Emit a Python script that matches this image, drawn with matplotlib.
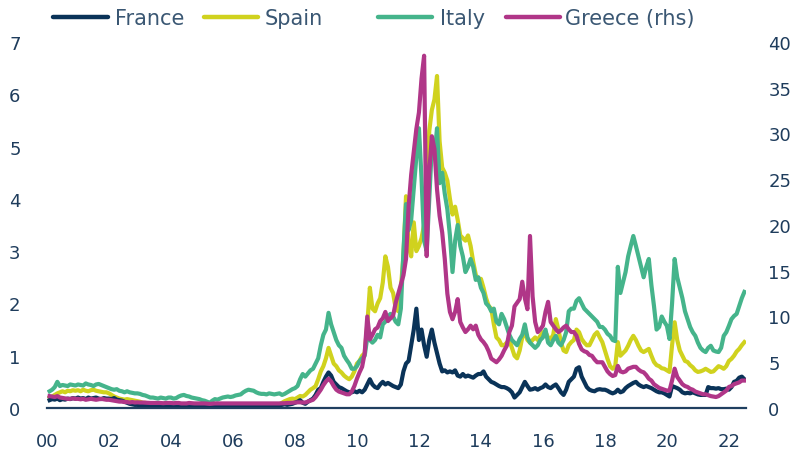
import numpy as np
import matplotlib
matplotlib.use("Agg")
import matplotlib.pyplot as plt
from matplotlib.lines import Line2D

# ---------------- data (monthly, Feb 2000 .. Jul 2022) ----------------
start_year = 2000 + 1 / 12
n_months = 270

france = [
    0.15, 0.17, 0.16, 0.18, 0.15, 0.17, 0.16, 0.18, 0.17, 0.19, 0.18,
    0.20, 0.18, 0.19, 0.17, 0.20, 0.18, 0.19, 0.20, 0.18, 0.17, 0.19, 0.18,
    0.18, 0.17, 0.19, 0.16, 0.15, 0.14, 0.12, 0.10, 0.08, 0.07, 0.06, 0.06,
    0.05, 0.05, 0.06, 0.04, 0.05, 0.04, 0.05, 0.04, 0.05, 0.04, 0.04, 0.05,
    0.04, 0.05, 0.04, 0.03, 0.04, 0.03, 0.04, 0.03, 0.04, 0.03, 0.03, 0.04,
    0.03, 0.04, 0.03, 0.04, 0.03, 0.02, 0.03, 0.03, 0.04, 0.03, 0.03, 0.03,
    0.03, 0.03, 0.04, 0.03, 0.03, 0.04, 0.03, 0.03, 0.03, 0.04, 0.03, 0.03,
    0.03, 0.04, 0.03, 0.04, 0.04, 0.05, 0.05, 0.06, 0.07, 0.06, 0.07, 0.08,
    0.10, 0.12, 0.15, 0.10, 0.08, 0.12, 0.15, 0.18, 0.25, 0.35, 0.38, 0.50,
    0.60, 0.68, 0.62, 0.50, 0.45, 0.40, 0.38, 0.35, 0.32, 0.30, 0.30, 0.32,
    0.30, 0.33, 0.30, 0.35, 0.45, 0.55, 0.45, 0.40, 0.38, 0.45, 0.50, 0.45,
    0.48, 0.45, 0.42, 0.40, 0.38, 0.45, 0.70, 0.85, 0.90, 1.20, 1.50, 1.90,
    1.30, 1.50, 1.20, 0.98, 1.30, 1.50, 1.25, 1.05, 0.85, 0.70, 0.72, 0.68,
    0.70, 0.68, 0.72, 0.62, 0.60, 0.65, 0.60, 0.62, 0.60, 0.58, 0.62, 0.65,
    0.65, 0.70, 0.60, 0.55, 0.50, 0.48, 0.45, 0.42, 0.40, 0.40, 0.38, 0.35,
    0.30, 0.20, 0.25, 0.30, 0.40, 0.50, 0.42, 0.35, 0.36, 0.38, 0.35, 0.38,
    0.40, 0.45, 0.40, 0.38, 0.42, 0.45, 0.38, 0.30, 0.25, 0.35, 0.50, 0.55,
    0.60, 0.75, 0.78, 0.60, 0.50, 0.40, 0.35, 0.33, 0.32, 0.35, 0.36, 0.35,
    0.35, 0.33, 0.30, 0.28, 0.30, 0.35, 0.30, 0.32, 0.38, 0.42, 0.45, 0.48,
    0.50, 0.45, 0.42, 0.40, 0.42, 0.40, 0.38, 0.35, 0.32, 0.30, 0.30, 0.28,
    0.25, 0.22, 0.42, 0.40, 0.38, 0.35, 0.30, 0.28, 0.29, 0.28, 0.30, 0.28,
    0.26, 0.25, 0.25, 0.25, 0.40, 0.38, 0.38, 0.37, 0.38, 0.36, 0.36, 0.37,
    0.35, 0.40, 0.50, 0.52, 0.58, 0.60, 0.55,
]

spain = [
    0.20, 0.22, 0.25, 0.28, 0.30, 0.32, 0.30, 0.33, 0.32, 0.34, 0.33,
    0.34, 0.32, 0.35, 0.33, 0.32, 0.34, 0.35, 0.33, 0.32, 0.31, 0.30, 0.30,
    0.28, 0.25, 0.22, 0.20, 0.18, 0.17, 0.16, 0.17, 0.16, 0.15, 0.14, 0.13,
    0.12, 0.10, 0.10, 0.09, 0.08, 0.08, 0.07, 0.07, 0.08, 0.07, 0.06, 0.06,
    0.06, 0.05, 0.06, 0.05, 0.06, 0.05, 0.04, 0.05, 0.04, 0.04, 0.05, 0.04,
    0.04, 0.03, 0.04, 0.03, 0.03, 0.02, 0.03, 0.03, 0.04, 0.03, 0.03, 0.04,
    0.03, 0.03, 0.04, 0.04, 0.04, 0.03, 0.04, 0.04, 0.05, 0.04, 0.04, 0.04,
    0.05, 0.05, 0.04, 0.05, 0.05, 0.06, 0.07, 0.10, 0.13, 0.15, 0.17, 0.18,
    0.17, 0.20, 0.23, 0.22, 0.25, 0.30, 0.35, 0.38, 0.42, 0.55, 0.70, 0.80,
    0.95, 1.15, 1.00, 0.85, 0.80, 0.72, 0.68, 0.62, 0.58, 0.55, 0.60, 0.70,
    0.85, 0.90, 1.00, 1.05, 1.60, 2.30, 1.90, 1.85, 2.00, 2.10, 2.40, 2.90,
    2.70, 2.30, 2.20, 1.90, 1.85, 2.30, 2.90, 4.05, 3.10, 2.90, 3.55, 3.00,
    3.10, 3.25, 3.50, 3.90, 5.30, 5.70, 5.90, 6.35, 5.10, 4.60, 4.50, 4.35,
    4.00, 3.70, 3.85, 3.60, 3.30, 3.25, 3.20, 3.30, 3.10, 2.80, 2.55, 2.45,
    2.47, 2.30, 2.10, 1.95, 1.90, 1.60, 1.35, 1.30, 1.20, 1.20, 1.25, 1.30,
    1.15, 1.00, 0.95, 1.10, 1.35, 1.45, 1.30, 1.25, 1.30, 1.35, 1.30, 1.38,
    1.45, 1.45, 1.35, 1.32, 1.40, 1.70, 1.50, 1.25, 1.10, 1.07, 1.20, 1.26,
    1.30, 1.50, 1.45, 1.32, 1.25, 1.20, 1.20, 1.30, 1.40, 1.45, 1.35, 1.26,
    1.10, 0.94, 0.80, 0.75, 0.80, 1.26, 1.00, 1.05, 1.10, 1.19, 1.30, 1.38,
    1.30, 1.19, 1.10, 1.07, 1.10, 1.13, 1.00, 0.88, 0.82, 0.80, 0.76, 0.75,
    0.72, 0.69, 1.20, 1.64, 1.30, 1.10, 1.00, 0.90, 0.88, 0.82, 0.78, 0.72,
    0.69, 0.70, 0.72, 0.75, 0.72, 0.69, 0.70, 0.75, 0.80, 0.78, 0.75, 0.80,
    0.90, 0.94, 1.00, 1.08, 1.13, 1.20, 1.26,
]

italy = [
    0.32, 0.35, 0.40, 0.50, 0.42, 0.44, 0.43, 0.42, 0.45, 0.44, 0.43,
    0.45, 0.44, 0.43, 0.47, 0.45, 0.44, 0.42, 0.45, 0.46, 0.44, 0.42, 0.40,
    0.38, 0.36, 0.35, 0.36, 0.33, 0.32, 0.30, 0.32, 0.30, 0.29, 0.28, 0.28,
    0.27, 0.25, 0.24, 0.22, 0.20, 0.20, 0.19, 0.18, 0.20, 0.19, 0.18, 0.20,
    0.20, 0.18, 0.19, 0.22, 0.24, 0.25, 0.23, 0.22, 0.20, 0.19, 0.18, 0.17,
    0.15, 0.14, 0.12, 0.10, 0.14, 0.17, 0.16, 0.18, 0.20, 0.21, 0.22, 0.21,
    0.22, 0.24, 0.25, 0.26, 0.30, 0.33, 0.35, 0.34, 0.33, 0.30, 0.28, 0.27,
    0.27, 0.26, 0.28, 0.27, 0.26, 0.27, 0.28, 0.25, 0.27, 0.30, 0.33, 0.36,
    0.38, 0.42, 0.55, 0.65, 0.60, 0.66, 0.72, 0.75, 0.85, 0.95, 1.20, 1.40,
    1.50, 1.82, 1.60, 1.45, 1.30, 1.20, 1.15, 1.00, 0.92, 0.85, 0.75, 0.75,
    0.80, 0.90, 0.95, 1.00, 1.35, 1.30, 1.25, 1.30, 1.40, 1.35, 1.60, 1.65,
    1.75, 1.80, 1.75, 1.65, 1.60, 1.90, 3.00, 3.90, 3.40, 3.60, 4.20, 4.80,
    5.35, 4.40, 3.20, 3.00, 4.00, 5.00, 4.80, 5.35, 4.30, 4.50, 4.10, 3.80,
    3.30, 2.60, 3.20, 3.50, 3.10, 2.90, 2.60, 2.70, 2.85, 2.70, 2.45, 2.50,
    2.30, 2.20, 2.00, 1.95, 1.85, 1.90, 1.65, 1.60, 1.80, 1.70, 1.55, 1.40,
    1.30, 1.25, 1.20, 1.32, 1.40, 1.60, 1.35, 1.25, 1.20, 1.15, 1.20, 1.30,
    1.35, 1.50, 1.25, 1.20, 1.30, 1.38, 1.25, 1.20, 1.30, 1.45, 1.85, 1.90,
    1.90, 2.05, 2.10, 2.00, 1.90, 1.85, 1.80, 1.75, 1.70, 1.65, 1.55, 1.55,
    1.50, 1.42, 1.38, 1.30, 1.28, 2.70, 2.20, 2.40, 2.60, 2.90, 3.10, 3.29,
    3.10, 2.90, 2.70, 2.50, 2.70, 2.85, 2.35, 1.95, 1.50, 1.55, 1.75, 1.65,
    1.57, 1.32, 2.00, 2.85, 2.50, 2.30, 2.10, 1.85, 1.70, 1.55, 1.45, 1.38,
    1.25, 1.15, 1.10, 1.07, 1.15, 1.19, 1.10, 1.08, 1.07, 1.15, 1.38, 1.45,
    1.57, 1.70, 1.76, 1.80, 1.95, 2.10, 2.22,
]

greece = [
    1.30, 1.25, 1.20, 1.30, 1.15, 1.10, 1.05, 1.00, 1.00, 1.05, 1.00,
    1.00, 0.95, 1.00, 0.90, 0.95, 1.00, 0.95, 0.90, 0.95, 1.00, 0.95, 0.90,
    0.90, 0.85, 0.80, 0.75, 0.70, 0.70, 0.65, 0.65, 0.60, 0.65, 0.60, 0.62,
    0.60, 0.60, 0.58, 0.55, 0.55, 0.55, 0.55, 0.55, 0.55, 0.52, 0.55, 0.55,
    0.55, 0.52, 0.55, 0.55, 0.50, 0.50, 0.50, 0.55, 0.52, 0.50, 0.50, 0.50,
    0.50, 0.50, 0.48, 0.45, 0.48, 0.50, 0.50, 0.50, 0.50, 0.50, 0.50, 0.50,
    0.50, 0.50, 0.50, 0.50, 0.50, 0.50, 0.50, 0.50, 0.50, 0.50, 0.50, 0.50,
    0.50, 0.50, 0.50, 0.50, 0.50, 0.50, 0.50, 0.52, 0.52, 0.55, 0.55, 0.58,
    0.60, 0.62, 0.62, 0.60, 0.60, 0.70, 0.80, 0.90, 1.20, 1.60, 2.00, 2.50,
    2.90, 3.20, 2.90, 2.40, 2.00, 1.80, 1.70, 1.60, 1.50, 1.50, 1.80, 2.40,
    3.20, 3.90, 4.50, 6.00, 10.0, 7.50, 8.00, 8.60, 8.80, 9.50, 9.80, 10.5,
    9.50, 9.80, 10.1, 11.5, 12.5, 13.5, 14.5, 16.3, 22.0, 25.5, 28.0, 30.5,
    32.3, 36.0, 38.5, 16.6, 25.8, 29.7, 28.3, 23.9, 21.0, 19.2, 16.3, 12.5,
    10.5, 9.70, 10.5, 11.9, 9.40, 8.80, 8.30, 8.60, 9.00, 8.60, 9.00, 8.00,
    7.50, 7.20, 6.80, 6.20, 5.40, 5.20, 5.00, 5.30, 5.70, 6.30, 6.80, 8.30,
    9.00, 11.1, 11.5, 11.9, 13.8, 12.0, 10.8, 18.8, 12.2, 9.40, 8.30, 8.60,
    9.00, 10.5, 11.6, 9.40, 9.00, 8.60, 8.30, 8.50, 8.80, 9.00, 8.60, 8.30,
    8.30, 7.90, 7.00, 6.40, 6.20, 6.10, 5.80, 5.70, 5.30, 5.00, 5.00, 5.00,
    4.50, 4.00, 3.70, 3.50, 3.60, 4.60, 4.00, 3.90, 4.00, 4.30, 4.40, 4.50,
    4.50, 4.20, 4.00, 3.90, 3.60, 3.20, 3.00, 2.60, 2.40, 2.20, 2.10, 2.00,
    1.90, 1.90, 3.00, 4.30, 3.40, 3.00, 2.60, 2.40, 2.30, 2.10, 2.00, 1.80,
    1.70, 1.60, 1.50, 1.50, 1.40, 1.30, 1.25, 1.20, 1.30, 1.50, 1.70, 1.90,
    2.30, 2.40, 2.60, 2.70, 2.80, 3.00, 3.00,
]

series_names = ["France", "Spain", "Italy", "Greece (rhs)"]
x_tick_years = list(range(2000, 2023, 2))
x_tick_labels = ["00", "02", "04", "06", "08", "10", "12", "14", "16", "18", "20", "22"]
left_ticks = [0, 1, 2, 3, 4, 5, 6, 7]
right_ticks = [0, 5, 10, 15, 20, 25, 30, 35, 40]

# ---------------- style ----------------
W, H = 793, 456
C_FR = "#0a3358"
C_ES = "#d0d21e"
C_IT = "#45b48b"
C_GR = "#b03688"
TXT = "#1e3c5c"
LEG_TXT = "#3a5773"
LW = 3.0

plt.rcParams["font.family"] = ["DejaVu Sans"]

t = start_year + np.arange(n_months) / 12.0

fig = plt.figure(figsize=(W / 100, H / 100), dpi=100)
ax_l, ax_r_px, ax_t, ax_b = 47, 746, 43, 409
ax = fig.add_axes([ax_l / W, 1 - ax_b / H, (ax_r_px - ax_l) / W, (ax_b - ax_t) / H])
ax2 = ax.twinx()

ax.plot(t, france, color=C_FR, lw=LW, solid_joinstyle="round", zorder=3)
ax.plot(t, spain, color=C_ES, lw=LW, solid_joinstyle="round", zorder=2)
ax.plot(t, italy, color=C_IT, lw=LW, solid_joinstyle="round", zorder=2.5)
ax2.plot(t, greece, color=C_GR, lw=LW, solid_joinstyle="round")

x0 = 2000 + (ax_l - 43.5) / 31.15
x1 = 2000 + (ax_r_px - 43.5) / 31.15
ax.set_xlim(x0, x1)
ax.set_ylim(0, 7)
ax2.set_ylim(0, 40)

ax.set_xticks(x_tick_years)
ax.set_xticklabels(x_tick_labels)
ax.set_yticks(left_ticks)
ax2.set_yticks(right_ticks)

for a in (ax, ax2):
    for s in a.spines.values():
        s.set_visible(False)
ax.spines["bottom"].set_visible(True)
ax.spines["bottom"].set_color("#1f3f60")
ax.spines["bottom"].set_linewidth(1.6)
ax.spines["bottom"].set_zorder(5)

ax.tick_params(axis="x", length=0, pad=17, labelsize=13, labelcolor=TXT)
ax.tick_params(axis="y", length=0, pad=19, labelsize=13, labelcolor=TXT)
ax2.tick_params(axis="y", length=0, pad=16, labelsize=13, labelcolor=TXT)

# ---------------- legend (manual, across top) ----------------
leg_y = 1 - 18 / H
handles_px = [(53, 108, 115), (204, 258, 265), (378, 432, 440), (506, 560, 565)]
colors = [C_FR, C_ES, C_IT, C_GR]
for (hx0, hx1, tx), c, name in zip(handles_px, colors, series_names):
    fig.add_artist(Line2D([hx0 / W, hx1 / W], [leg_y, leg_y], transform=fig.transFigure,
                          color=c, lw=3.2, solid_capstyle="round"))
    fig.text(tx / W, leg_y - 0.002, name, fontsize=15, color=LEG_TXT, ha="left", va="center")

fig.savefig("out.png", dpi=100)
